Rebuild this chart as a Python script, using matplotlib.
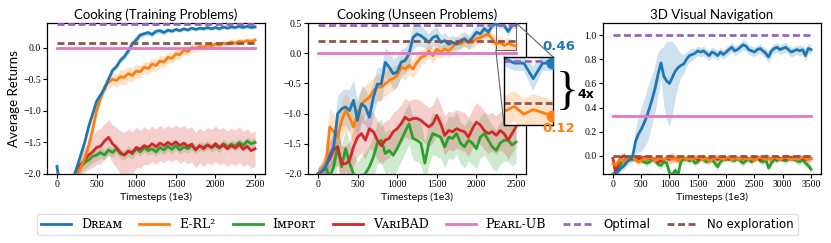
import numpy as np
import matplotlib
matplotlib.use("Agg")
import matplotlib.pyplot as plt
from mpl_toolkits.axes_grid1.inset_locator import mark_inset

# ---------------- data ----------------
x_train = np.arange(0, 2501, 50)
x_unseen = np.arange(0, 2501, 50)
x_nav = np.arange(0, 3501, 50)

# Cooking (training problems)
dream_train = [
    -1.88, -2.30, -2.40, -2.30, -2.10, -1.90, -1.70, -1.50, -1.25, -1.05,
    -0.85, -0.75, -0.65, -0.50, -0.36, -0.30, -0.20, -0.14, -0.05, 0.06,
    0.12, 0.20, 0.22, 0.24, 0.21, 0.26, 0.27, 0.24, 0.28, 0.26,
    0.29, 0.27, 0.30, 0.28, 0.31, 0.29, 0.31, 0.30, 0.32, 0.30,
    0.32, 0.30, 0.33, 0.31, 0.33, 0.32, 0.34, 0.32, 0.34, 0.32,
    0.33]
dream_train_sd = [
    0.15, 0.10, 0.10, 0.10, 0.08, 0.06, 0.06, 0.06, 0.06, 0.06,
    0.06, 0.06, 0.06, 0.05, 0.05, 0.05, 0.05, 0.05, 0.06, 0.08,
    0.07, 0.05, 0.04, 0.04, 0.04, 0.04, 0.04, 0.04, 0.03, 0.03,
    0.03, 0.03, 0.03, 0.03, 0.03, 0.03, 0.03, 0.03, 0.03, 0.03,
    0.03, 0.03, 0.03, 0.03, 0.03, 0.03, 0.03, 0.03, 0.03, 0.03,
    0.03]
erl2_train = [
    -2.50, -2.50, -2.50, -2.40, -2.20, -2.00, -1.90, -1.75, -1.55, -1.30,
    -1.00, -0.80, -0.62, -0.55, -0.50, -0.52, -0.46, -0.47, -0.41, -0.44,
    -0.37, -0.38, -0.31, -0.33, -0.26, -0.28, -0.21, -0.23, -0.15, -0.17,
    -0.10, -0.11, -0.04, -0.06, 0.00, -0.01, 0.02, 0.01, 0.04, 0.03,
    0.06, 0.04, 0.07, 0.06, 0.09, 0.07, 0.10, 0.09, 0.11, 0.10,
    0.12]
erl2_train_sd = [
    0.05, 0.05, 0.05, 0.05, 0.05, 0.05, 0.06, 0.06, 0.07, 0.08,
    0.08, 0.09, 0.10, 0.10, 0.10, 0.11, 0.11, 0.12, 0.12, 0.11,
    0.11, 0.10, 0.10, 0.10, 0.10, 0.10, 0.09, 0.09, 0.09, 0.08,
    0.08, 0.08, 0.07, 0.07, 0.07, 0.06, 0.06, 0.06, 0.06, 0.06,
    0.05, 0.05, 0.05, 0.05, 0.05, 0.05, 0.05, 0.05, 0.05, 0.05,
    0.05]
import_train = [
    -2.50, -2.50, -2.50, -2.40, -2.05, -1.95, -1.88, -1.82, -1.78, -1.72,
    -1.70, -1.66, -1.70, -1.62, -1.66, -1.60, -1.68, -1.70, -1.64, -1.68,
    -1.60, -1.65, -1.58, -1.63, -1.60, -1.65, -1.58, -1.62, -1.56, -1.61,
    -1.55, -1.62, -1.57, -1.60, -1.55, -1.61, -1.56, -1.58, -1.54, -1.58,
    -1.55, -1.59, -1.52, -1.57, -1.53, -1.56, -1.50, -1.55, -1.48, -1.52,
    -1.50]
import_train_sd = [
    0.05, 0.05, 0.05, 0.05, 0.08, 0.08, 0.10, 0.10, 0.10, 0.10,
    0.10, 0.09, 0.09, 0.08, 0.08, 0.08, 0.08, 0.08, 0.08, 0.08,
    0.07, 0.07, 0.07, 0.07, 0.07, 0.07, 0.07, 0.07, 0.07, 0.07,
    0.07, 0.07, 0.07, 0.07, 0.07, 0.07, 0.07, 0.07, 0.07, 0.07,
    0.07, 0.07, 0.07, 0.07, 0.07, 0.07, 0.07, 0.07, 0.07, 0.07,
    0.07]
varibad_train = [
    -2.50, -2.50, -2.50, -2.40, -2.10, -1.95, -1.85, -1.78, -1.70, -1.65,
    -1.58, -1.56, -1.48, -1.42, -1.52, -1.58, -1.66, -1.70, -1.64, -1.66,
    -1.58, -1.61, -1.55, -1.58, -1.52, -1.57, -1.51, -1.55, -1.50, -1.54,
    -1.49, -1.55, -1.51, -1.56, -1.53, -1.62, -1.55, -1.60, -1.54, -1.58,
    -1.52, -1.58, -1.54, -1.60, -1.55, -1.59, -1.53, -1.61, -1.56, -1.63,
    -1.60]
varibad_train_sd = [
    0.05, 0.05, 0.05, 0.05, 0.10, 0.12, 0.15, 0.20, 0.22, 0.25,
    0.27, 0.28, 0.28, 0.28, 0.30, 0.32, 0.34, 0.36, 0.35, 0.33,
    0.32, 0.30, 0.30, 0.28, 0.28, 0.28, 0.28, 0.27, 0.27, 0.27,
    0.27, 0.28, 0.28, 0.28, 0.28, 0.28, 0.28, 0.28, 0.28, 0.28,
    0.28, 0.28, 0.28, 0.28, 0.28, 0.28, 0.28, 0.28, 0.28, 0.28,
    0.28]

# Cooking (unseen problems)
dream_unseen = [
    -2.00, -1.96, -1.88, -1.69, -1.55, -1.00, -0.92, -0.89, -0.95, -0.78,
    -1.11, -0.84, -0.89, -1.06, -0.73, -0.51, -0.51, -0.15, -0.23, -0.34,
    -0.31, -0.15, -0.12, -0.01, 0.26, 0.32, 0.29, 0.24, 0.18, 0.26,
    0.29, 0.18, 0.21, 0.15, 0.18, 0.15, 0.21, 0.24, 0.18, 0.26,
    0.35, 0.32, 0.41, 0.35, 0.46, 0.49, 0.46, 0.46, 0.36, 0.46,
    0.46]
dream_unseen_sd = [
    0.10, 0.12, 0.15, 0.20, 0.25, 0.30, 0.30, 0.30, 0.35, 0.35,
    0.30, 0.30, 0.30, 0.30, 0.28, 0.28, 0.28, 0.25, 0.25, 0.25,
    0.25, 0.22, 0.22, 0.22, 0.20, 0.20, 0.18, 0.15, 0.15, 0.15,
    0.15, 0.13, 0.13, 0.12, 0.12, 0.12, 0.12, 0.12, 0.12, 0.12,
    0.10, 0.10, 0.10, 0.08, 0.06, 0.05, 0.05, 0.05, 0.08, 0.05,
    0.05]
erl2_unseen = [
    -2.00, -1.95, -1.85, -1.22, -1.30, -1.39, -1.11, -0.95, -1.06, -1.22,
    -1.00, -0.84, -0.78, -0.73, -0.62, -0.56, -0.56, -0.51, -0.45, -0.42,
    -0.37, -0.23, -0.26, -0.20, -0.26, -0.15, -0.07, -0.04, 0.04, -0.04,
    0.07, 0.02, 0.07, 0.04, 0.10, 0.18, 0.15, 0.21, 0.18, 0.18,
    0.24, 0.26, 0.29, 0.32, 0.24, 0.15, 0.18, 0.13, 0.16, 0.14,
    0.12]
erl2_unseen_sd = [
    0.10, 0.15, 0.20, 0.30, 0.30, 0.30, 0.30, 0.30, 0.28, 0.28,
    0.28, 0.25, 0.25, 0.25, 0.22, 0.22, 0.22, 0.20, 0.20, 0.20,
    0.18, 0.18, 0.18, 0.15, 0.15, 0.15, 0.12, 0.12, 0.12, 0.12,
    0.12, 0.10, 0.10, 0.10, 0.10, 0.10, 0.10, 0.10, 0.10, 0.10,
    0.10, 0.10, 0.10, 0.10, 0.10, 0.10, 0.10, 0.10, 0.10, 0.10,
    0.10]
import_unseen = [
    -2.00, -1.95, -1.90, -2.05, -1.88, -1.55, -1.88, -1.58, -1.82, -2.00,
    -2.15, -2.05, -1.99, -1.88, -1.72, -1.49, -1.44, -1.66, -1.61, -1.69,
    -1.58, -1.44, -1.30, -1.17, -1.41, -1.44, -1.49, -1.82, -1.49, -1.33,
    -1.36, -1.39, -1.55, -1.39, -1.41, -1.33, -1.49, -1.55, -1.44, -1.49,
    -1.58, -1.39, -1.33, -1.44, -1.55, -1.61, -1.49, -1.44, -1.44, -1.52,
    -1.47]
import_unseen_sd = [
    0.10, 0.10, 0.15, 0.20, 0.25, 0.30, 0.35, 0.35, 0.35, 0.35,
    0.35, 0.35, 0.35, 0.35, 0.35, 0.35, 0.35, 0.35, 0.35, 0.35,
    0.35, 0.35, 0.35, 0.35, 0.35, 0.35, 0.35, 0.35, 0.35, 0.35,
    0.35, 0.35, 0.35, 0.35, 0.35, 0.35, 0.35, 0.35, 0.35, 0.35,
    0.35, 0.35, 0.35, 0.35, 0.35, 0.35, 0.35, 0.35, 0.35, 0.35,
    0.35]
varibad_unseen = [
    -2.00, -1.95, -1.85, -1.75, -1.60, -1.55, -1.83, -1.83, -1.77, -1.55,
    -1.39, -1.33, -1.44, -1.25, -1.30, -1.44, -1.53, -1.44, -1.41, -1.30,
    -1.25, -1.17, -1.06, -1.11, -1.08, -1.08, -1.11, -1.17, -1.22, -1.17,
    -1.03, -1.17, -1.36, -1.28, -1.30, -1.25, -1.28, -1.30, -1.39, -1.25,
    -1.14, -1.19, -1.28, -1.33, -1.30, -1.36, -1.28, -1.33, -1.44, -1.33,
    -1.22]
varibad_unseen_sd = [
    0.10, 0.15, 0.25, 0.30, 0.30, 0.30, 0.30, 0.30, 0.30, 0.32,
    0.32, 0.32, 0.32, 0.32, 0.32, 0.32, 0.32, 0.32, 0.32, 0.32,
    0.32, 0.32, 0.32, 0.32, 0.32, 0.32, 0.32, 0.32, 0.32, 0.32,
    0.32, 0.32, 0.32, 0.32, 0.32, 0.32, 0.32, 0.32, 0.32, 0.32,
    0.32, 0.32, 0.32, 0.32, 0.32, 0.32, 0.32, 0.32, 0.32, 0.32,
    0.32]

# 3D visual navigation
dream_nav = [
    -0.20, -0.15, -0.12, -0.10, -0.08, -0.05, -0.03, 0.00, 0.12, 0.18,
    0.22, 0.27, 0.33, 0.40, 0.48, 0.57, 0.68, 0.77, 0.66, 0.62,
    0.60, 0.65, 0.70, 0.73, 0.75, 0.76, 0.80, 0.83, 0.84, 0.85,
    0.87, 0.86, 0.87, 0.85, 0.83, 0.86, 0.85, 0.83, 0.86, 0.84,
    0.86, 0.88, 0.90, 0.87, 0.88, 0.90, 0.92, 0.91, 0.88, 0.87,
    0.86, 0.88, 0.89, 0.87, 0.85, 0.82, 0.87, 0.89, 0.90, 0.88,
    0.89, 0.90, 0.88, 0.86, 0.87, 0.88, 0.87, 0.88, 0.83, 0.89,
    0.88]
dream_nav_sd = [
    0.03, 0.03, 0.03, 0.03, 0.03, 0.03, 0.03, 0.05, 0.10, 0.15,
    0.18, 0.20, 0.22, 0.22, 0.20, 0.20, 0.18, 0.12, 0.25, 0.33,
    0.35, 0.30, 0.22, 0.15, 0.10, 0.08, 0.06, 0.05, 0.05, 0.04,
    0.04, 0.04, 0.04, 0.04, 0.04, 0.04, 0.04, 0.04, 0.04, 0.04,
    0.04, 0.04, 0.04, 0.04, 0.04, 0.04, 0.04, 0.04, 0.04, 0.04,
    0.04, 0.04, 0.04, 0.04, 0.04, 0.05, 0.04, 0.04, 0.04, 0.04,
    0.04, 0.04, 0.04, 0.04, 0.04, 0.04, 0.04, 0.04, 0.05, 0.04,
    0.04]
erl2_nav = [
    -0.06, -0.08, -0.04, -0.03, -0.05, -0.03, -0.02, -0.01, -0.03, -0.05,
    -0.04, -0.02, -0.03, -0.01, -0.02, -0.04, -0.03, -0.02, -0.03, -0.02,
    -0.01, -0.03, -0.02, -0.04, -0.02, -0.01, -0.03, -0.02, -0.03, -0.02,
    -0.01, -0.02, -0.03, -0.02, -0.04, -0.03, -0.02, -0.01, -0.02, -0.03,
    -0.02, -0.01, -0.03, -0.02, -0.02, -0.03, -0.01, -0.02, -0.03, -0.02,
    -0.04, -0.02, -0.01, -0.02, -0.03, -0.02, -0.03, -0.01, -0.02, -0.03,
    -0.02, -0.01, -0.02, -0.03, -0.02, -0.03, -0.02, -0.01, -0.02, -0.03,
    -0.02]
import_nav = [
    -0.15, -0.14, -0.12, -0.06, -0.04, -0.03, -0.02, -0.03, -0.02, -0.03,
    -0.04, -0.05, -0.06, -0.05, -0.03, -0.04, -0.07, -0.08, -0.05, -0.06,
    -0.14, -0.16, -0.12, -0.16, -0.05, -0.03, -0.02, -0.04, -0.03, -0.06,
    -0.05, -0.02, -0.03, -0.05, -0.04, -0.03, -0.06, -0.09, -0.05, -0.03,
    -0.03, -0.01, -0.03, -0.04, -0.02, -0.04, -0.06, -0.04, -0.03, -0.05,
    -0.02, -0.01, -0.04, -0.05, -0.03, -0.10, -0.06, -0.03, -0.04, -0.02,
    -0.03, -0.04, -0.03, -0.01, -0.02, -0.04, -0.05, -0.03, -0.06, -0.08,
    -0.11]
varibad_nav = [
    -0.02, -0.15, -0.05, -0.01, 0.00, -0.02, -0.03, -0.01, -0.02, -0.03,
    -0.02, -0.01, -0.03, -0.02, -0.02, -0.03, -0.05, -0.04, -0.03, -0.02,
    -0.03, -0.01, -0.02, -0.03, -0.02, -0.01, -0.03, -0.02, -0.01, -0.02,
    -0.03, -0.02, -0.01, -0.02, -0.03, -0.01, -0.02, -0.03, -0.02, -0.01,
    -0.02, -0.03, -0.02, -0.01, -0.02, -0.03, -0.02, -0.01, -0.03, -0.02,
    -0.01, -0.02, -0.03, -0.02, -0.01, -0.02, -0.03, -0.02, -0.01, -0.02,
    -0.03, -0.02, -0.01, -0.02, -0.03, -0.02, -0.01, -0.02, -0.03, -0.02,
    -0.02]
small_nav_sd = [
    0.03, 0.04, 0.03, 0.03, 0.03, 0.02, 0.02, 0.02, 0.03, 0.03,
    0.02, 0.02, 0.03, 0.02, 0.02, 0.03, 0.03, 0.03, 0.02, 0.03,
    0.04, 0.04, 0.03, 0.03, 0.02, 0.02, 0.02, 0.03, 0.02, 0.03,
    0.02, 0.02, 0.03, 0.02, 0.03, 0.02, 0.03, 0.03, 0.02, 0.02,
    0.02, 0.02, 0.03, 0.02, 0.02, 0.03, 0.03, 0.02, 0.02, 0.03,
    0.02, 0.02, 0.03, 0.02, 0.03, 0.03, 0.03, 0.02, 0.02, 0.02,
    0.02, 0.03, 0.02, 0.02, 0.02, 0.03, 0.03, 0.02, 0.03, 0.03,
    0.03]

# reference levels: (optimal, no exploration, PEARL-UB)
levels_train = (0.37, 0.08, -0.01)
levels_unseen = (0.475, 0.20, 0.0)
levels_nav = (1.0, 0.0, 0.33)

titles = ["Cooking (Training Problems)", "Cooking (Unseen Problems)", "3D Visual Navigation"]
labels = ["D\u0280\u1d07\u1d00\u1d0d", "E-RL\u00b2", "I\u1d0d\u1d18\u1d0f\u0280\u1d1b",
          "V\u1d00\u0280\u026aBAD", "P\u1d07\u1d00\u0280\u029f-UB", "Optimal", "No exploration"]

COL = ["#1f77b4", "#ff7f0e", "#2ca02c", "#d62728", "#e377c2", "#9467bd", "#8c564b"]

# ---------------- figure ----------------
plt.rcParams['font.family'] = ['Liberation Serif', 'DejaVu Serif']
plt.rcParams['axes.unicode_minus'] = True
SANS = ['Lato', 'DejaVu Sans']
LEGSANS = ['DejaVu Sans']

fig = plt.figure(figsize=(8.31, 2.43), dpi=100)
W, B, H = 0.2623, 0.284, 0.621
axes = [fig.add_axes([l, B, W, H]) for l in (0.0566, 0.3706, 0.7256)]

panels = [
    (x_train, [(dream_train, dream_train_sd), (erl2_train, erl2_train_sd),
               (import_train, import_train_sd), (varibad_train, varibad_train_sd)], levels_train),
    (x_unseen, [(dream_unseen, dream_unseen_sd), (erl2_unseen, erl2_unseen_sd),
                (import_unseen, import_unseen_sd), (varibad_unseen, varibad_unseen_sd)], levels_unseen),
    (x_nav, [(dream_nav, dream_nav_sd), (erl2_nav, small_nav_sd),
             (import_nav, small_nav_sd), (varibad_nav, small_nav_sd)], levels_nav),
]

DASH = (0, (2.5, 1.3))
handles = []
for i, (ax, (x, series, lev)) in enumerate(zip(axes, panels)):
    for j, (m, sd) in enumerate(series):
        m = np.asarray(m); sd = np.asarray(sd)
        ax.fill_between(x, m - sd, m + sd, color=COL[j], alpha=0.22, lw=0)
    for j in [2, 3, 1, 0]:
        m = np.asarray(series[j][0])
        ln, = ax.plot(x, m, color=COL[j], lw=2.0, label=labels[j], zorder=3 + (j == 0))
        if i == 0:
            handles.append((j, ln))
    opt, noexp, pearl = lev
    lp, = ax.plot([x[0], x[-1]], [pearl, pearl], color=COL[4], lw=2.0, zorder=5)
    lo, = ax.plot([x[0], x[-1]], [opt, opt], color=COL[5], lw=2.0, ls=DASH, zorder=5)
    ln_, = ax.plot([x[0], x[-1]], [noexp, noexp], color=COL[6], lw=2.0, ls=DASH, zorder=5)
    if i == 0:
        handles += [(4, lp), (5, lo), (6, ln_)]
    ax.set_title(titles[i], fontsize=9.5, family=SANS, pad=3)
    ax.set_xlabel("Timesteps (1e3)", fontsize=7.5, family=SANS, labelpad=2)
    ax.tick_params(labelsize=7, length=3, width=0.8, pad=1.5)
    for s in ax.spines.values():
        s.set_linewidth(0.9)

axes[0].set_ylim(-2.0, 0.39)
axes[0].set_yticks([-2.0, -1.5, -1.0, -0.5, 0.0])
axes[0].set_xticks([0, 500, 1000, 1500, 2000, 2500])
axes[1].set_ylim(-2.0, 0.5)
axes[1].set_yticks([-2.0, -1.5, -1.0, -0.5, 0.0, 0.5])
axes[1].set_xticks([0, 500, 1000, 1500, 2000, 2500])
axes[2].set_ylim(-0.15, 1.1)
axes[2].set_yticks([0.0, 0.2, 0.4, 0.6, 0.8, 1.0])
axes[2].set_xticks([0, 500, 1000, 1500, 2000, 2500, 3000, 3500])
axes[0].set_ylabel("Average Returns", fontsize=9.5, family=SANS, labelpad=2)

# ---------------- inset ----------------
axins = fig.add_axes([0.6065, 0.4856, 0.059, 0.28])
xu = x_unseen
for j, (m, sd) in enumerate(panels[1][1][:2]):
    m = np.asarray(m); sd = np.asarray(sd)
    axins.fill_between(xu, m - sd, m + sd, color=COL[j], alpha=0.22, lw=0)
    axins.plot(xu, m, color=COL[j], lw=2.0)
    axins.plot([xu[-1]], [m[-1]], 'o', color=COL[j], ms=7.5, zorder=6)
axins.plot([xu[0], xu[-1]], [levels_unseen[0]] * 2, color=COL[5], lw=2.0, ls=DASH)
axins.plot([xu[0], xu[-1]], [levels_unseen[1]] * 2, color=COL[6], lw=2.0, ls=DASH)
axins.set_xlim(2245, 2505)
axins.set_ylim(0.06, 0.5)
axins.set_xticks([]); axins.set_yticks([])
for s in axins.spines.values():
    s.set_linewidth(1.0)
mark_inset(axes[1], axins, loc1=1, loc2=3, fc="none", ec="0.4", lw=0.8)

fig.text(559 / 831, 1 - 47 / 243, f"{dream_unseen[-1]:.2f}", color=COL[0], fontsize=9.5,
         fontweight='bold', family=['DejaVu Sans'], ha='center', va='center')
fig.text(559 / 831, 1 - 128 / 243, f"{erl2_unseen[-1]:.2f}", color=COL[1], fontsize=9.5,
         fontweight='bold', family=['DejaVu Sans'], ha='center', va='center')
fig.text(567 / 831, 1 - 93 / 243, "}", fontsize=34, family=['Liberation Serif'],
         ha='center', va='center')
fig.text(586 / 831, 1 - 94 / 243, "4x", fontsize=9, fontweight='bold', family=['DejaVu Sans'],
         ha='center', va='center')

# ---------------- legend ----------------
handles = [h for _, h in sorted(handles, key=lambda t: t[0])]
leg = fig.legend(handles, labels, loc='center', ncol=7,
                 bbox_to_anchor=(417.5 / 831, 1 - 224.5 / 243),
                 borderaxespad=0, handlelength=2.4, handletextpad=0.8, columnspacing=1.35,
                 borderpad=0.35,
                 prop={'family': ['DejaVu Serif', 'DejaVu Sans'], 'size': 9},
                 frameon=True, fancybox=True, edgecolor='0.85')
for t in leg.get_texts()[5:]:
    t.set_family(LEGSANS)
    t.set_fontsize(8.5)

fig.savefig("out.png", dpi=100)
